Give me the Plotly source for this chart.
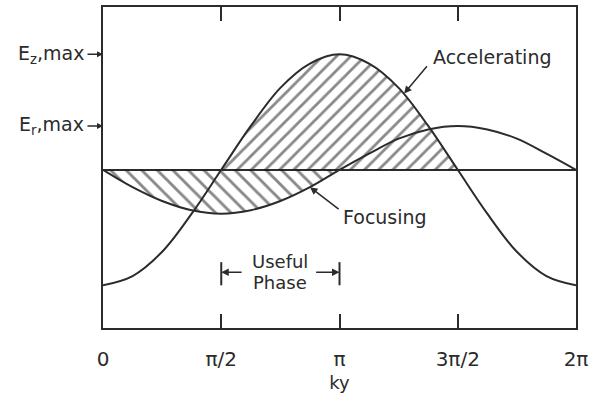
import numpy as np
import plotly.graph_objects as go

# ---- data ----
ky_over_pi = [0, 0.125, 0.25, 0.375, 0.5, 0.625, 0.75, 0.875, 1.0,
              1.125, 1.25, 1.375, 1.5, 1.625, 1.75, 1.875, 2.0]
Ez = [-1.00, -0.92, -0.71, -0.38, 0.00, 0.38, 0.71, 0.92, 1.00,
      0.92, 0.71, 0.38, 0.00, -0.38, -0.71, -0.92, -1.00]
Er = [0.00, -0.15, -0.27, -0.35, -0.38, -0.35, -0.27, -0.15, 0.00,
      0.14, 0.27, 0.35, 0.38, 0.35, 0.27, 0.14, 0.00]
tick_over_pi = [0, 0.5, 1.0, 1.5, 2.0]
tick_text = ["0", "π/2", "π", "3π/2", "2π"]
useful_phase_over_pi = [0.5, 1.0]
Ez_max = 1.00
Er_max = 0.38

ky = np.array(ky_over_pi) * np.pi
Ez = np.array(Ez)
Er = np.array(Er)

INK = "#2b2b2b"
HATCH = "#111111"
FONT = "DejaVu Sans, sans-serif"
FS = 19

fig = go.Figure()

# accelerating region: Ez > 0 (pi/2 .. 3pi/2)
acc = (Ez >= 0)
fig.add_trace(go.Scatter(
    x=ky[acc], y=Ez[acc], mode="lines", line=dict(width=0, shape="spline"),
    fill="tozeroy", fillcolor="rgba(0,0,0,0)",
    fillpattern=dict(shape="/", size=10, solidity=0.28, fgcolor=HATCH,
                     bgcolor="rgba(0,0,0,0)"),
    hoverinfo="skip", showlegend=False))

# focusing region: Er < 0 (0 .. pi)
foc = np.array(ky_over_pi) <= 1.0
fig.add_trace(go.Scatter(
    x=ky[foc], y=Er[foc], mode="lines", line=dict(width=0, shape="spline"),
    fill="tozeroy", fillcolor="rgba(0,0,0,0)",
    fillpattern=dict(shape="\\", size=11, solidity=0.26, fgcolor=HATCH,
                     bgcolor="rgba(0,0,0,0)"),
    hoverinfo="skip", showlegend=False))

# curves
fig.add_trace(go.Scatter(x=ky, y=Ez, mode="lines",
                         line=dict(color=INK, width=2, shape="spline"),
                         showlegend=False, hoverinfo="skip"))
fig.add_trace(go.Scatter(x=ky, y=Er, mode="lines",
                         line=dict(color=INK, width=2, shape="spline"),
                         showlegend=False, hoverinfo="skip"))

tfont = dict(size=FS, color=INK, family=FONT)
sfont = dict(size=18, color=INK, family=FONT)
arrow = dict(showarrow=True, arrowhead=2, arrowsize=1, arrowwidth=1.5,
             arrowcolor=INK, text="")

anns = []
# Accelerating
anns.append(dict(x=4.0, y=0.66, ax=4.32, ay=0.91, xref="x", yref="y",
                 axref="x", ayref="y", **arrow))
anns.append(dict(x=5.17, y=0.98, xref="x", yref="y", text="Accelerating",
                 showarrow=False, font=tfont))
# Focusing
anns.append(dict(x=2.75, y=-0.15, ax=3.15, ay=-0.35, xref="x", yref="y",
                 axref="x", ayref="y", **arrow))
anns.append(dict(x=3.75, y=-0.41, xref="x", yref="y", text="Focusing",
                 showarrow=False, font=tfont))
# Useful phase
u0, u1 = [v * np.pi for v in useful_phase_over_pi]
umid = (u0 + u1) / 2
anns.append(dict(x=umid, y=-0.79, xref="x", yref="y", text="Useful",
                 showarrow=False, font=sfont))
anns.append(dict(x=umid, y=-0.975, xref="x", yref="y", text="Phase",
                 showarrow=False, font=sfont))
anns.append(dict(x=u0, y=-0.888, ax=u0 + 0.29, ay=-0.888, xref="x", yref="y",
                 axref="x", ayref="y", **arrow))
anns.append(dict(x=u1, y=-0.888, ax=u1 - 0.33, ay=-0.888, xref="x", yref="y",
                 axref="x", ayref="y", **arrow))
# Left labels
for val, lab in [(Ez_max, "E<sub>z</sub>,max"), (Er_max, "E<sub>r</sub>,max")]:
    anns.append(dict(x=0, y=val, xref="x", yref="y", ax=-17, ay=0,
                     showarrow=True, arrowhead=2, arrowsize=0.8,
                     arrowwidth=1.5, arrowcolor=INK, text=""))
    anns.append(dict(x=0, y=val, xref="x", yref="y", xanchor="right",
                     xshift=-17, text=lab, showarrow=False, font=tfont))

shapes = []
for u in (u0, u1):
    shapes.append(dict(type="line", xref="x", yref="y", x0=u, x1=u,
                       y0=-0.80, y1=-1.00, line=dict(color=INK, width=2)))

fig.update_layout(
    width=603, height=403,
    margin=dict(l=103, r=27, t=5, b=75),
    paper_bgcolor="white", plot_bgcolor="white",
    annotations=anns, shapes=shapes,
    font=dict(family=FONT, color=INK),
    xaxis=dict(range=[0, 2 * np.pi], tickvals=[v * np.pi for v in tick_over_pi],
               ticktext=tick_text, ticks="inside", ticklen=14, tickwidth=2,
               tickcolor=INK, showline=True, linecolor=INK, linewidth=2,
               mirror="ticks", showgrid=False, zeroline=False,
               tickfont=dict(size=20, color=INK, family=FONT),
               ticklabelstandoff=12,
               title=dict(text="ky", font=dict(size=18, color=INK, family=FONT),
                          standoff=6)),
    yaxis=dict(range=[-1.37, 1.41], showticklabels=False, ticks="",
               showline=True, linecolor=INK, linewidth=2, mirror=True,
               showgrid=False, zeroline=True, zerolinecolor=INK,
               zerolinewidth=2),
)

fig.write_html("out.html")
